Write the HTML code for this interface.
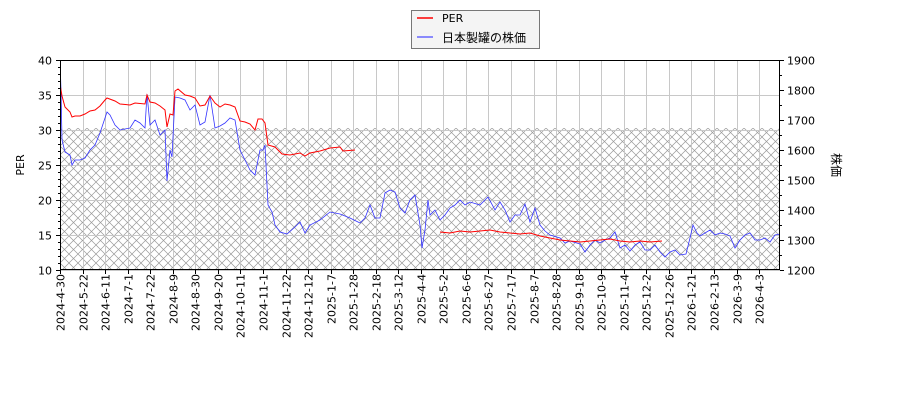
<!DOCTYPE html>
<html><head><meta charset="utf-8"><style>
html,body{margin:0;padding:0;background:#fff;}
svg{display:block;font-family:"DejaVu Sans","Liberation Sans","Noto Sans CJK JP",sans-serif;}
</style></head><body>
<svg id="s" width="900" height="400" viewBox="0 0 900 400" xmlns="http://www.w3.org/2000/svg">
<defs>
<pattern id="h" width="9" height="9" patternUnits="userSpaceOnUse" x="60" y="128">
<path d="M0,0L9,9M9,0L0,9" stroke="#999" stroke-width="0.7" fill="none"/>
</pattern>
<clipPath id="c"><rect x="60" y="60" width="720" height="210"/></clipPath>
</defs>
<rect x="60" y="128" width="720" height="142" fill="url(#h)"/>
<g id="grid" stroke="#c8c8c8" stroke-width="1"></g>
<g clip-path="url(#c)">
<polyline id="blue" fill="none" stroke="#3333ff" stroke-width="0.8" points="60,60 61,90 62,140 65,152 70,155 72,165 75,160 80,160 85,158 90,150 95,145 100,133 105,118 107,112 110,115 115,125 120,130 125,129 130,128 135,120 140,123 145,128 147,94 150,125 155,120 160,135 165,130 167,181 170,150 172,157 175,97 180,98 185,100 190,110 195,105 200,125 205,122 210,95 215,128 220,126 225,123 230,118 235,120 240,150 245,160 250,170 255,175 260,150 263,150 265,145 268,205 272,212 275,225 280,232 287,234 295,227 300,222 305,233 310,225 320,220 330,212 340,214 350,218 360,223 365,218 370,205 375,218 380,218 385,193 390,190 395,192 400,208 405,213 410,200 415,195 420,225 422,248 425,230 428,200 430,215 435,210 440,220 445,215 450,208 455,205 460,200 465,205 470,202 480,205 488,197 495,210 500,202 505,210 510,222 515,215 520,215 525,204 530,222 535,208 540,225 545,231 550,235 560,238 565,243 570,241 580,244 585,252 590,245 595,240 600,243 605,240 610,238 615,232 620,248 625,245 630,251 635,245 640,242 645,250 650,250 655,245 660,252 665,257 670,252 675,250 680,255 686,254 690,238 693,225 697,233 700,236 705,233 710,230 715,235 720,233 725,234 730,236 735,248 740,240 745,235 750,233 755,240 760,240 765,238 770,242 775,235 780,234"/>
<polyline fill="none" stroke="#ff0000" stroke-width="1" points="60,84 62,96 65,107 70,112 72,117 75,116 80,116 85,114 90,111 95,110 100,106 105,100 107,98 115,101 120,104 130,105 135,103 145,104 147,95 150,102 155,103 160,106 165,110 167,127 170,114 173,115 175,91 178,89 185,95 190,96 195,98 200,106 205,105 210,96 215,103 220,107 225,104 230,105 235,107 240,121 245,122 250,124 255,130 258,119 262,119 265,123 268,145 275,147 282,154 290,155 300,153 305,156 310,153 320,151 330,148 340,147 343,151 355,150"/>
<polyline fill="none" stroke="#ff0000" stroke-width="1" points="440,232 450,233 460,231 470,232 480,231 490,230 500,232 510,233 520,234 530,233 540,236 550,238 560,240 570,241 580,242 590,241 600,240 610,239 620,241 630,242 640,241 650,242 662,241"/>
</g>
<rect x="60.5" y="60.5" width="719" height="209" fill="none" stroke="#000"/>
<g id="ax" font-size="11" fill="#000"></g>
<text transform="translate(24,165) rotate(-90)" text-anchor="middle" font-size="11">PER</text>
<text transform="translate(832,165) rotate(90)" text-anchor="middle" font-size="12" font-family="'Noto Sans CJK JP',sans-serif">株価</text>
<rect x="411.5" y="10.5" width="128" height="38" fill="#f4f4f4" stroke="#777"/>
<line x1="417" y1="18" x2="433" y2="18" stroke="#f00" stroke-width="1.5"/>
<line x1="417" y1="37" x2="433" y2="37" stroke="#6666ff" stroke-width="1.5"/>
<text x="442" y="22" font-size="11">PER</text>
<text x="442" y="42" font-size="12" font-family="'Noto Sans CJK JP',sans-serif">日本製罐の株価</text>
</svg>
<script>
var NS="http://www.w3.org/2000/svg",g=document.getElementById("grid"),ax=document.getElementById("ax");
function el(p,t,a,tx){var e=document.createElementNS(NS,t);for(var k in a)e.setAttribute(k,a[k]);if(tx)e.textContent=tx;p.appendChild(e);return e;}
var labs=["2024-4-30","2024-5-22","2024-6-11","2024-7-1","2024-7-22","2024-8-9","2024-8-30","2024-9-20","2024-10-11","2024-11-1","2024-11-22","2024-12-12","2025-1-7","2025-1-28","2025-2-18","2025-3-12","2025-4-4","2025-5-2","2025-6-6","2025-6-27","2025-7-17","2025-8-7","2025-8-28","2025-9-18","2025-10-9","2025-11-4","2025-12-2","2025-12-26","2026-1-21","2026-2-13","2026-3-9","2026-4-3"];
for(var i=0;i<labs.length;i++){var x=Math.round(60+i*22.55)+0.5;
el(g,"line",{x1:x,y1:60,x2:x,y2:270});
el(ax,"line",{x1:x,y1:270,x2:x,y2:274,stroke:"#000"});
el(ax,"text",{transform:"translate("+(x+4)+",274) rotate(-90)","text-anchor":"end"},labs[i]);}
for(var v=10;v<=40;v+=5){var y=270-(v-10)*7+0.5;
el(g,"line",{x1:60,y1:y,x2:780,y2:y});
el(ax,"line",{x1:56,y1:y,x2:60,y2:y,stroke:"#000"});
el(ax,"text",{x:52,y:y+4,"text-anchor":"end"},v);}
for(var v=10;v<=40;v+=1){var y=270-(v-10)*7+0.5;el(ax,"line",{x1:58,y1:y,x2:60,y2:y,stroke:"#000"});}
for(var v=1200;v<=1900;v+=50){var y=270-(v-1200)*0.3+0.5;var big=v%100==0;
el(ax,"line",{x1:780,y1:y,x2:big?784:782,y2:y,stroke:"#000"});
if(big)el(ax,"text",{x:787,y:y+4},v);}
</script>
</body></html>
